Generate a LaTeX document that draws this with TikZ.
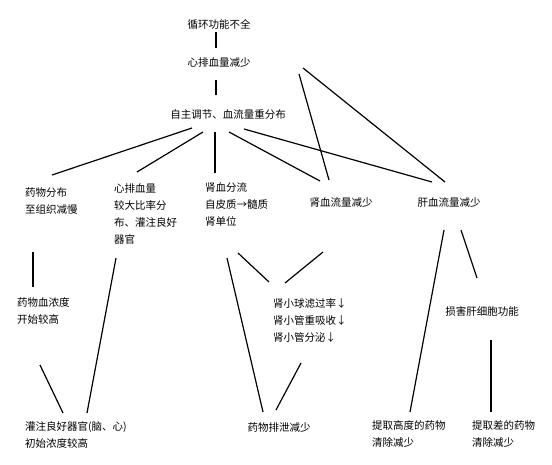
\documentclass[tikz,border=0pt]{standalone}
\usepackage{fontspec}
\newfontfamily\cjk{Noto Sans CJK SC}
\tikzset{
  lbl/.style={font=\cjk\fontsize{10.5}{17}\selectfont, inner sep=0pt, align=left},
  conn/.style={line width=1.2pt},
}
\begin{document}
\begin{tikzpicture}[x=1pt,y=-1pt]
\useasboundingbox (0,0) rectangle (552,464);
% top chain
\node[lbl] (xh) at (219,24) {循环功能不全};
\node[lbl] (xp) at (219,63) {心排血量减少};
\node[lbl] (zz) at (228,115) {自主调节、血流量重分布};
% second row
\node[lbl, anchor=west] (yw) at (25,201) {药物分布\\至组织减慢};
\node[lbl, anchor=west] (xb) at (114,214) {心排血量\\较大比率分\\布、灌注良好\\器官};
\node[lbl, anchor=west] (sf) at (205,204.5) {肾血分流\\自皮质→髓质\\肾单位};
\node[lbl] (sl) at (341,203) {肾血流量减少};
\node[lbl] (gl) at (449,203) {肝血流量减少};
% third row
\node[lbl, anchor=west] (xn) at (17,311) {药物血浓度\\开始较高};
\node[lbl, anchor=west] (sx) at (273,320) {肾小球滤过率↓\\肾小管重吸收↓\\肾小管分泌↓};
\node[lbl] (sh) at (482,311) {损害肝细胞功能};
% bottom row
\node[lbl, anchor=west] (gz) at (25,435) {灌注良好器官(脑、心)\\初始浓度较高};
\node[lbl] (pw) at (279,428) {药物排泄减少};
\node[lbl, anchor=west] (tg) at (372,434) {提取高度的药物\\清除减少};
\node[lbl, anchor=west] (tc) at (472,434) {提取差的药物\\清除减少};
% connectors
\foreach \a/\ax/\ay/\b/\bx/\by in {
  xh.center/-3/8/xp.center/-3/-15,
  xp.center/-3/17/zz.center/-12/-20,
  zz.center/-36/13/yw.west/27/-26,
  zz.center/-25/17/xb.west/23/-42,
  zz.center/-13/17/sf.west/10/-31.5,
  zz.center/1/17/sl.center/-21/-22,
  zz.center/16/14/gl.center/-17/-21,
  xp.center/80/11/sl.center/-12/-23,
  xp.center/84/5/gl.center/-4/-21,
  yw.west/8/51/xn.west/16/-24,
  xb.west/2/44/gz.west/62/-22,
  xn.west/23/54/gz.west/38/-22,
  sf.west/22/53.5/pw.center/-16/-16,
  sf.west/33/48.5/sx.west/-4/-38,
  sl.center/-18/49/sx.west/12/-37,
  sx.west/28/43/pw.center/-3/-18,
  gl.center/-5/27/tg.west/38/-22,
  gl.center/12/27/sh.center/-5/-33,
  sh.center/9/29/tc.west/19/-22}
  \draw[conn] ([shift={(\ax,\ay)}]\a) -- ([shift={(\bx,\by)}]\b);
\end{tikzpicture}
\end{document}
